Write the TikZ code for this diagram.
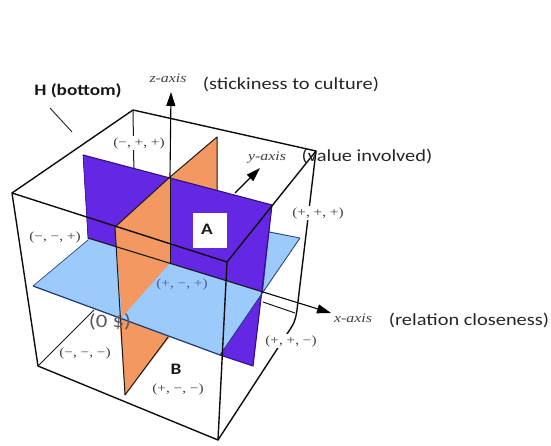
\documentclass[tikz,border=0pt]{standalone}
\usepackage{fontspec}
\setmainfont{Liberation Serif}[FakeStretch=1.22]
\newfontfamily\calib{Carlito}[FakeStretch=1.2]
\usetikzlibrary{arrows.meta}
\definecolor{purp}{RGB}{100,40,228}
\definecolor{purpdark}{RGB}{50,15,130}
\definecolor{oran}{RGB}{242,152,96}
\definecolor{blu}{RGB}{156,202,250}
\definecolor{bludark}{RGB}{30,55,120}
\begin{document}
\begin{tikzpicture}[x=1pt,y=-1pt,line join=round,
  cubeedge/.style={black!95,line width=1.4pt},
  thinedge/.style={black!90,line width=1pt},
  sig/.style={font=\fontsize{12.5}{14}\selectfont,text=black!75,inner sep=1pt},
  sigw/.style={sig,fill=white},
  capt/.style={font=\calib\fontsize{17}{19}\selectfont,text=black!85,inner sep=0pt},
  boldcapt/.style={font=\calib\bfseries\fontsize{16}{18}\selectfont,text=black!90,inner sep=0pt},
  axl/.style={font=\itshape\fontsize{13}{15}\selectfont,text=black!75,inner sep=0pt},
  axarrow/.style={-{Triangle[length=14pt,width=9pt]},black,line width=1.1pt}]
\useasboundingbox (0,0) rectangle (551,446);
\fill[white] (0,0) rectangle (551,446);

% cube corners
\coordinate (FTL) at (12,193);
\coordinate (FTR) at (227,262);
\coordinate (FBL) at (38,366);
\coordinate (FBR) at (218,440);
\coordinate (BTL) at (133,110);
\coordinate (BTR) at (316,151);
\coordinate (BBR) at (285,337);
\coordinate (BRa) at (297,310);
\coordinate (BBLh) at (94,310);
\coordinate (BLv) at (134,178);

% plane points
\coordinate (PTL) at (83,155);
\coordinate (PTR) at (272,205);
\coordinate (PBR) at (253,366);
\coordinate (PBF) at (220,355);
\coordinate (PBL) at (92,308);
\coordinate (LL) at (88,238);
\coordinate (LR) at (263,292);
\coordinate (O) at (170,263);
\coordinate (OT) at (170,177);
\coordinate (OrF) at (115,227);
\coordinate (OrB) at (217,137);
\coordinate (OrBv) at (217,255);
\coordinate (OrFb) at (122,317);
\coordinate (OrLB) at (125,395);
\coordinate (OrLR) at (172,334);
\coordinate (OrLA) at (118,300);
\coordinate (BlL) at (33,286);
\coordinate (BlF) at (220,355);
\coordinate (BlR) at (300,238);
\coordinate (BlB) at (134,201);
\coordinate (BlBr) at (269,232);
\coordinate (BlLe) at (88,240);

% hidden / back edges
\draw[thinedge] (BTL) -- (BLv);
\draw[thinedge] (FBL) -- (BBLh);

% orange back half
\fill[oran] (OT) -- (OrB) -- (OrBv) -- (O) -- cycle;
\draw[thinedge] (OT) -- (OrB) -- (217,195);

% purple full
\fill[purp] (PTL) -- (PTR) -- (PBR) -- (PBF) -- (PBL) -- cycle;
% orange lower
\fill[oran] (OrLA) -- (OrLB) -- (OrLR) -- (O) -- cycle;
% blue plane
\fill[blu] (BlL) -- (BlF) -- (BlR) -- (BlB) -- cycle;
% purple upper (in front of blue)
\fill[purp] (PTL) -- (PTR) -- (LR) -- (LL) -- cycle;
% orange upper front
\fill[oran] (OrF) -- (OT) -- (O) -- (OrFb) -- cycle;

% plane outlines
\draw[purpdark,line width=1.1pt] (PTL) -- (PTR) -- (PBR) -- (PBF);
\draw[purpdark,line width=0.6pt] (PTL) -- (LL);
\draw[bludark,line width=1.2pt] (BlL) -- (BlF);
\draw[bludark,line width=0.8pt] (BlF) -- (BlR) -- (BlBr);
\draw[bludark,line width=0.6pt] (BlL) -- (BlLe);
\draw[thinedge] (OrF) -- (OT);
\draw[thinedge] (OT) -- (O);
\draw[thinedge] (OrF) -- (OrLB) -- (168,337);

% axes
\draw[axarrow] (OT) -- (171,92);
\draw[axarrow] (235,193) -- (260,168);
\draw[black!90,line width=1.1pt] (LL) -- (LR);
\draw[axarrow] (LR) -- (331,313);
\coordinate (X2a) at (263,302);
\coordinate (X2b) at (295,313);
\draw[thinedge] (X2a) -- (X2b);

% cube visible edges
\draw[cubeedge] (FTL) -- (FTR) -- (FBR) -- (FBL) -- cycle;
\draw[cubeedge] (FTL) -- (BTL) -- (BTR) -- (FTR);
\draw[cubeedge] (BTR) -- (BRa) .. controls (295,322) .. (BBR) -- (FBR);

% pointer of H (bottom)
\coordinate (hp1) at (50,108);
\coordinate (hp2) at (72,132);
\draw[black!85,line width=0.9pt] (hp1) -- (hp2);

% labels
\node[boldcapt] (H) at (78,91) {H (bottom)};
\node[axl] (zlab) at (168,78) {z-axis};
\node[capt] (zdesc) at (291,84) {(stickiness to culture)};
\node[axl] (ylab) at (267,158) {y-axis};
\node[capt] (ydesc) at (367,156) {(value involved)};
\node[axl] (xlab) at (353,318) {x-axis};
\node[capt] (xdesc) at (469,320) {(relation closeness)};
\node[sigw] (ppp) at (318,213) {(+, +, +)};
\node[sigw] (mpp) at (139,143) {(−, +, +)};
\node[sig] (mmp) at (55,237) {(−, −, +)};
\node[fill=white,minimum width=34pt,minimum height=35pt,inner sep=0pt] (Abox) at (210,231) {};
\node[boldcapt] (A) at (207,229) {A};
\node[sig,text=bludark!80] (pmp) at (182,284) {(+, −, +)};
\node[capt,text=black!65,font=\calib\fontsize{19}{21}\selectfont] (zero) at (110,322) {(0 \$)};
\node[sig] (mmm) at (85,353) {(−, −, −)};
\node[boldcapt] (B) at (176,369) {B};
\node[sig] (pmm) at (178,389) {(+, −, −)};
\node[sigw] (ppm) at (291,341) {(+, +, −)};
\end{tikzpicture}
\end{document}
